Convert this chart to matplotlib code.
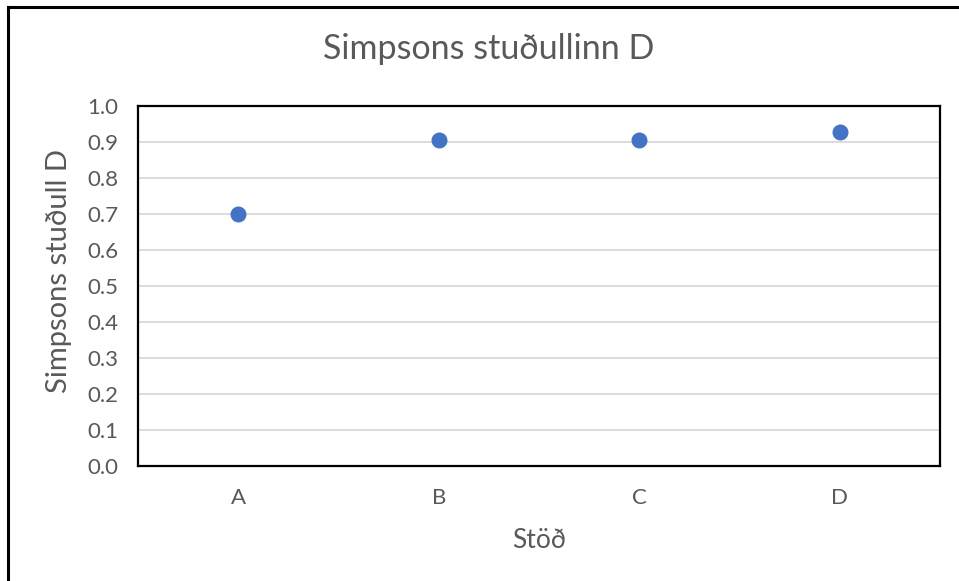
import matplotlib.pyplot as plt
from matplotlib.lines import Line2D

# Data
stations = ['A', 'B', 'C', 'D']
simpson_d = [0.70, 0.905, 0.905, 0.928]
y_ticks = [0.0, 0.1, 0.2, 0.3, 0.4, 0.5, 0.6, 0.7, 0.8, 0.9, 1.0]

text_color = '#595959'
plt.rcParams['font.family'] = ['Lato', 'DejaVu Sans']

fig = plt.figure(figsize=(9.59, 5.81), dpi=100)
ax = fig.add_axes([0.1439, 0.1985, 0.8363, 0.6190])

x = list(range(len(stations)))
ax.plot(x, simpson_d, linestyle='none', marker='o', markersize=10.5,
        color='#4472C4', zorder=3)

ax.set_xlim(-0.5, len(stations) - 0.5)
ax.set_ylim(0, 1.0)
ax.set_yticks(y_ticks)
ax.set_yticklabels([f'{v:.1f}' for v in y_ticks])
ax.set_xticks(x)
ax.set_xticklabels(stations)

ax.grid(axis='y', color='#d9d9d9', linewidth=1.3)
ax.set_axisbelow(True)
ax.tick_params(length=0, labelsize=16, labelcolor=text_color)
ax.tick_params(axis='y', pad=14)
ax.tick_params(axis='x', pad=16)
for side in ax.spines.values():
    side.set_color('black')
    side.set_linewidth(1.6)

ax.set_xlabel('Stöð', fontsize=19, color=text_color)
ax.xaxis.set_label_coords(0.5, -0.172)
ax.set_ylabel('Simpsons stuðull D', fontsize=21, color=text_color)
ax.yaxis.set_label_coords(-0.082, 0.54)
fig.text(0.51, 0.915, 'Simpsons stuðullinn D', ha='center', va='center',
         fontsize=24.5, color=text_color)

# outer chart border (top and left visible)
fig.add_artist(Line2D([0.0085, 1.0], [0.988, 0.988], color='black', linewidth=2.2,
                      transform=fig.transFigure))
fig.add_artist(Line2D([0.0085, 0.0085], [0.0, 0.988], color='black', linewidth=2.2,
                      transform=fig.transFigure))

fig.savefig('out.png', dpi=100)
